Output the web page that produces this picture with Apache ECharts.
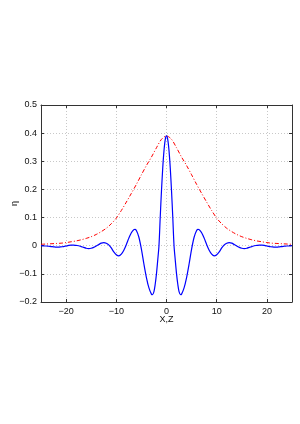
<!DOCTYPE html>
<html>
<head>
<meta charset="utf-8">
<script src="https://cdn.jsdelivr.net/npm/echarts@6/dist/echarts.min.js"></script>
<style>html,body{margin:0;padding:0;background:#fff}#c{width:300px;height:424px}</style>
</head>
<body>
<div id="c"></div>
<script>
var xTicks = [-20, -10, 0, 10, 20];
var yTicks = [-0.2, -0.1, 0, 0.1, 0.2, 0.3, 0.4, 0.5];

var blueX = [-25,-24.5,-24,-23.5,-23,-22.5,-22,-21.5,-21,-20.5,-20,-19.5,-19,-18.5,-18,-17.5,-17,-16.5,-16,-15.5,-15,-14.5,-14,-13.5,-13,-12.5,-12,-11.5,-11,-10.5,-10,-9.5,-9,-8.5,-8,-7.5,-7,-6.5,-6.3,-6,-5.5,-5,-4.5,-4,-3.5,-3,-2.8,-2.5,-2.25,-2,-1.75,-1.5,-1.25,-1,-0.75,-0.5,-0.25,
  0,0.25,0.5,0.75,1,1.25,1.5,1.75,2,2.25,2.5,2.8,3,3.5,4,4.5,5,5.5,6,6.3,6.5,7,7.5,8,8.5,9,9.5,10,10.5,11,11.5,12,12.5,13,13.5,14,14.5,15,15.5,16,16.5,17,17.5,18,18.5,19,19.5,20,20.5,21,21.5,22,22.5,23,23.5,24,24.5,25];
var blueY = [0.000,-0.001,-0.001,-0.002,-0.003,-0.004,-0.005,-0.005,-0.004,-0.003,-0.001,0.001,0.002,0.002,0.001,0.000,-0.003,-0.006,-0.009,-0.010,-0.009,-0.006,-0.001,0.004,0.009,0.011,0.009,0.003,-0.008,-0.022,-0.032,-0.036,-0.030,-0.016,0.004,0.027,0.046,0.057,0.058,0.054,0.030,-0.012,-0.065,-0.113,-0.150,-0.172,-0.174,-0.163,-0.137,-0.100,-0.052,0.000,0.101,0.195,0.276,0.338,0.377,
  0.390,0.377,0.338,0.276,0.195,0.101,0.000,-0.052,-0.100,-0.137,-0.163,-0.174,-0.172,-0.150,-0.113,-0.065,-0.012,0.030,0.054,0.058,0.057,0.046,0.027,0.004,-0.016,-0.030,-0.036,-0.032,-0.022,-0.008,0.003,0.009,0.011,0.009,0.004,-0.001,-0.006,-0.009,-0.010,-0.009,-0.006,-0.003,0.000,0.001,0.002,0.002,0.001,-0.001,-0.003,-0.004,-0.005,-0.005,-0.004,-0.003,-0.002,-0.001,-0.001,0.000];

var redX = [-25,-24,-23,-22,-21,-20,-19,-18,-17,-16,-15,-14,-13,-12,-11,-10,-9,-8,-7,-6,-5,-4,-3,-2,-1,0,1,2,3,4,5,6,7,8,9,10,11,12,13,14,15,16,17,18,19,20,21,22,23,24,25];
var redY = [0.005,0.006,0.007,0.008,0.009,0.011,0.014,0.017,0.021,0.026,0.032,0.040,0.050,0.062,0.078,0.098,0.125,0.155,0.186,0.218,0.252,0.285,0.315,0.348,0.378,0.390,0.378,0.348,0.315,0.285,0.252,0.218,0.186,0.155,0.125,0.098,0.078,0.062,0.050,0.040,0.032,0.026,0.021,0.017,0.014,0.011,0.009,0.008,0.007,0.006,0.005];

function pairs(xs, ys) { return xs.map(function (x, i) { return [x, ys[i]]; }); }
function fmt(v) { var s = Math.abs(v) < 1e-9 ? '0' : (Math.round(v * 10) / 10).toString(); return s.replace('-', '\u2212'); }

var FONT = 'Liberation Sans';
var AX = '#333';
var chart = echarts.init(document.getElementById('c'), null, { renderer: 'canvas' });
var tickStyle = { show: true, inside: true, length: 3, lineStyle: { color: AX, width: 1 } };
var gridLine = { show: true, lineStyle: { color: '#c8c8c8', type: [1, 2], width: 1 } };

chart.setOption({
  animation: false,
  backgroundColor: '#fff',
  grid: { left: 41, right: 8, top: 105, bottom: 122, containLabel: false, outerBoundsMode: 'none' },
  xAxis: [
    { type: 'value', min: -25, max: 25, position: 'bottom',
      name: 'X,Z', nameLocation: 'middle', nameGap: 13, nameMoveOverlap: false,
      nameTextStyle: { fontFamily: FONT, fontSize: 9, color: '#111' },
      axisLine: { show: true, onZero: false, lineStyle: { color: AX, width: 1 } },
      axisTick: Object.assign({ customValues: xTicks }, tickStyle),
      axisLabel: { customValues: xTicks, formatter: fmt, fontFamily: FONT, fontSize: 9, color: '#111', margin: 5 },
      splitLine: gridLine },
    { type: 'value', min: -25, max: 25, position: 'top',
      axisLine: { show: true, onZero: false, lineStyle: { color: AX, width: 1 } },
      axisTick: Object.assign({ customValues: xTicks }, tickStyle),
      axisLabel: { show: false }, splitLine: { show: false } }
  ],
  yAxis: [
    { type: 'value', min: -0.2, max: 0.5, interval: 0.1, position: 'left',
      name: 'η', nameLocation: 'middle', nameRotate: 90, nameGap: 22, nameMoveOverlap: false,
      nameTextStyle: { fontFamily: FONT, fontSize: 9, color: '#111' },
      axisLine: { show: true, onZero: false, lineStyle: { color: AX, width: 1 } },
      axisTick: tickStyle,
      axisLabel: { formatter: fmt, fontFamily: FONT, fontSize: 9, color: '#111', margin: 4 },
      splitLine: gridLine },
    { type: 'value', min: -0.2, max: 0.5, interval: 0.1, position: 'right',
      axisLine: { show: true, onZero: false, lineStyle: { color: AX, width: 1 } },
      axisTick: tickStyle, axisLabel: { show: false }, splitLine: { show: false } }
  ],
  series: [
    { type: 'line', data: pairs(redX, redY), smooth: 0.3, showSymbol: false, symbol: 'none',
      lineStyle: { color: '#ff0000', width: 1, type: [4, 2, 1, 2] }, z: 3 },
    { type: 'line', data: pairs(blueX, blueY), smooth: 0.3, showSymbol: false, symbol: 'none',
      lineStyle: { color: '#0000ff', width: 1.2 }, z: 4 }
  ]
});
</script>
</body>
</html>
